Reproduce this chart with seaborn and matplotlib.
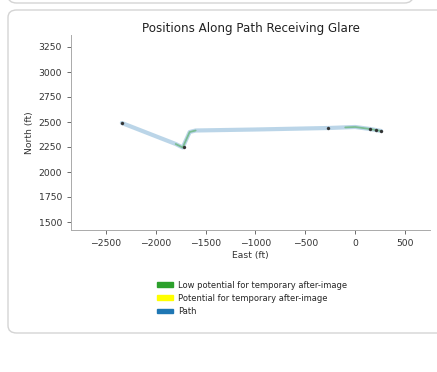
import matplotlib
matplotlib.use("Agg")
import matplotlib.pyplot as plt
import seaborn as sns
import pandas as pd
from matplotlib.patches import Patch, FancyBboxPatch

sns.set_theme(style="ticks")
plt.rcParams['font.family'] = ['DejaVu Sans']

# Path vertices (East, North) in ft
path_east = [-2340, -1800, -1730, -1660, -1600, -1000, -270, 0, 150, 260]
path_north = [2490, 2280, 2245, 2400, 2415, 2425, 2440, 2450, 2430, 2410]

# Glare segments (low potential)
glare1_east = [-1800, -1730, -1660, -1600]
glare1_north = [2280, 2245, 2400, 2415]
glare2_east = [-100, 0, 150, 260]
glare2_north = [2446, 2450, 2430, 2410]

# Observation markers
mark_east = [-2340, -1720, -270, 150, 210, 260]
mark_north = [2490, 2250, 2440, 2430, 2420, 2410]

legend_labels = ["Low potential for temporary after-image",
                 "Potential for temporary after-image",
                 "Path"]
legend_colors = ["#2ca02c", "#ffff00", "#1f77b4"]

fig = plt.figure(figsize=(4.37, 3.72), dpi=100)
W, H = 437, 372

# card backgrounds
for (x0, y0, w, h) in [(8, -20, 405, 23), (8, 10, 440, 323)]:
    p = FancyBboxPatch((x0 / W, (H - y0 - h) / H), w / W, h / H,
                       boxstyle="round,pad=0,rounding_size=0.02",
                       transform=fig.transFigure, facecolor="white",
                       edgecolor="#d4d4d4", lw=1.0, zorder=-10)
    fig.patches.append(p)

ax = fig.add_axes([71 / W, (H - 230) / H, 359 / W, 195 / H])
ax.set_facecolor("none")
ax.set_zorder(5)

df_path = pd.DataFrame({"East": path_east, "North": path_north})
sns.lineplot(data=df_path, x="East", y="North", sort=False, ax=ax,
             color="#1f77b4", alpha=0.3, lw=3.0, estimator=None)
for ge, gn in [(glare1_east, glare1_north), (glare2_east, glare2_north)]:
    sns.lineplot(x=ge, y=gn, sort=False, ax=ax, color="#2ca02c", alpha=0.45,
                 lw=1.3, estimator=None)
sns.scatterplot(x=mark_east, y=mark_north, ax=ax, color="#333333", s=5,
                edgecolor=None, zorder=5)

ax.set_xlim(-2850, 750)
ax.set_ylim(1420, 3370)
ax.set_xticks([-2500, -2000, -1500, -1000, -500, 0, 500])
ax.set_yticks([1500, 1750, 2000, 2250, 2500, 2750, 3000, 3250])
ax.tick_params(labelsize=6.7, length=3, width=0.6, colors="#555555",
               labelcolor="#333333")
for s in ["left", "bottom"]:
    ax.spines[s].set_color("#aaaaaa")
    ax.spines[s].set_linewidth(0.7)
sns.despine(ax=ax)
ax.set_xlabel("East (ft)", fontsize=6.7, color="#333333", labelpad=2)
ax.set_ylabel("North (ft)", fontsize=6.7, color="#333333", labelpad=3)
ax.set_title("Positions Along Path Receiving Glare", fontsize=8.6,
             color="#222222", pad=2)

handles = [Patch(facecolor=c, edgecolor=c, label=l)
           for c, l in zip(legend_colors, legend_labels)]
leg = fig.legend(handles=handles, loc="upper center",
                 bbox_to_anchor=(252 / W, (H - 273) / H), frameon=False,
                 fontsize=6, handlelength=2.0, handleheight=0.45,
                 labelspacing=0.5, handletextpad=0.6)
leg.set_zorder(6)

fig.savefig("out.png", dpi=100)
